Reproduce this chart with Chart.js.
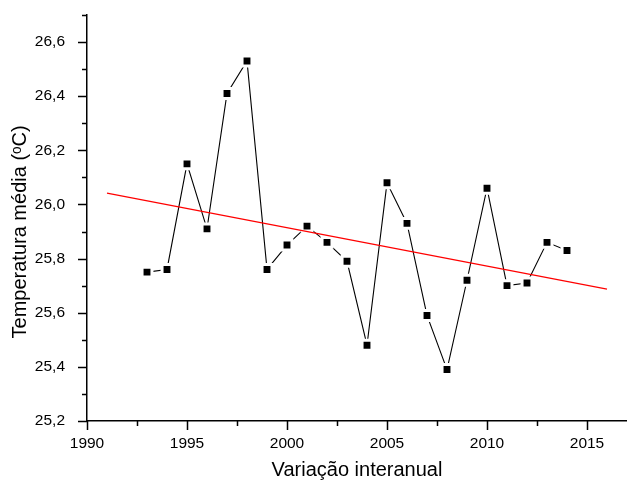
<!DOCTYPE html>
<html lang="pt">
<head>
    <meta charset="UTF-8">
    <title>Temperatura média</title>
    <script src="https://cdn.jsdelivr.net/npm/chart.js"></script>
    <style>
        html, body { margin: 0; padding: 0; background: #fff; }
        #wrap { width: 627px; height: 482px; }
    </style>
</head>
<body>
    <div id="wrap"><canvas id="tempChart" width="627" height="482"></canvas></div>
    <script>
        // dados
        const years = [1993, 1994, 1995, 1996, 1997, 1998, 1999, 2000, 2001, 2002, 2003,
                       2004, 2005, 2006, 2007, 2008, 2009, 2010, 2011, 2012, 2013, 2014];
        const temps = [25.75, 25.76, 26.15, 25.91, 26.41, 26.53, 25.76, 25.85, 25.92, 25.86, 25.79,
                       25.48, 26.08, 25.93, 25.59, 25.39, 25.72, 26.06, 25.70, 25.71, 25.86, 25.83];
        const trendYears = [1991, 2016];
        const trendTemps = [26.042, 25.687];

        const xTicks = [1990, 1995, 2000, 2005, 2010, 2015];
        const xMinorTicks = [1992.5, 1997.5, 2002.5, 2007.5, 2012.5];
        const yTicks = [25.2, 25.4, 25.6, 25.8, 26.0, 26.2, 26.4, 26.6];
        const yMinorTicks = [25.3, 25.5, 25.7, 25.9, 26.1, 26.3, 26.5, 26.7];

        const FONT = 'Liberation Sans, Arial, sans-serif';

        // ticks para fora (maiores e menores), desenhados com as escalas do Chart.js
        const tickMarks = {
            id: 'tickMarks',
            afterDraw(chart) {
                const c = chart.ctx;
                const xs = chart.scales.x, ys = chart.scales.y;
                const left = chart.chartArea.left, bottom = chart.chartArea.bottom;
                c.save();
                c.strokeStyle = '#000';
                c.lineWidth = 1.5;
                c.beginPath();
                xTicks.forEach(v => { const p = Math.round(xs.getPixelForValue(v)) + 0.5; c.moveTo(p, bottom); c.lineTo(p, bottom + 9); });
                xMinorTicks.forEach(v => { const p = Math.round(xs.getPixelForValue(v)) + 0.5; c.moveTo(p, bottom); c.lineTo(p, bottom + 5); });
                yTicks.forEach(v => { const p = Math.round(ys.getPixelForValue(v)) + 0.5; c.moveTo(left, p); c.lineTo(left - 9, p); });
                yMinorTicks.forEach(v => { const p = Math.round(ys.getPixelForValue(v)) + 0.5; c.moveTo(left, p); c.lineTo(left - 5, p); });
                c.stroke();
                c.restore();
            }
        };

        const ctx = document.getElementById('tempChart').getContext('2d');
        const tempChart = new Chart(ctx, {
            type: 'line',
            data: {
                datasets: [
                    {
                        label: 'Tendência',
                        data: trendYears.map((x, i) => ({ x: x, y: trendTemps[i] })),
                        borderColor: '#ff0000',
                        borderWidth: 1.2,
                        pointRadius: 0,
                        fill: false
                    },
                    {
                        label: 'Temperatura média',
                        data: years.map((x, i) => ({ x: x, y: temps[i] })),
                        borderColor: '#000',
                        borderWidth: 1.1,
                        pointStyle: 'rect',
                        pointRadius: 7,
                        pointBackgroundColor: '#000',
                        pointBorderColor: '#fff',
                        pointBorderWidth: 3,
                        fill: false
                    }
                ]
            },
            options: {
                responsive: false,
                animation: false,
                events: [],
                layout: { autoPadding: false, padding: { top: 15, right: 0, left: 0, bottom: 0 } },
                plugins: {
                    legend: { display: false },
                    tooltip: { enabled: false }
                },
                scales: {
                    x: {
                        type: 'linear',
                        min: 1990,
                        max: 2017,
                        afterBuildTicks: s => { s.ticks = xTicks.map(v => ({ value: v })); },
                        afterFit: s => { s.height = 61; s.paddingLeft = 0; s.paddingRight = 0; },
                        grid: { display: false },
                        border: { display: true, color: '#000', width: 1.5 },
                        ticks: {
                            color: '#000',
                            padding: 5,
                            maxRotation: 0,
                            font: { family: FONT, size: 15.5 },
                            callback: v => String(v)
                        },
                        title: {
                            display: true,
                            text: 'Variação interanual',
                            color: '#000',
                            font: { family: FONT, size: 20 },
                            padding: { top: 0, bottom: 0 }
                        }
                    },
                    y: {
                        type: 'linear',
                        min: 25.2,
                        max: 26.7,
                        afterBuildTicks: s => { s.ticks = yTicks.map(v => ({ value: v })); },
                        afterFit: s => { s.width = 87; s.paddingTop = 0; s.paddingBottom = 0; },
                        grid: { display: false },
                        border: { display: true, color: '#000', width: 1.5 },
                        ticks: {
                            color: '#000',
                            padding: 14,
                            font: { family: FONT, size: 15.5 },
                            callback: v => v.toFixed(1).replace('.', ',')
                        },
                        title: {
                            display: true,
                            // espaços finais para descer o título como no original
                            text: 'Temperatura média (ᵒC)\u00a0\u00a0\u00a0\u00a0\u00a0',
                            color: '#000',
                            font: { family: FONT, size: 20 },
                            padding: { top: 8.7, bottom: 0 }
                        }
                    }
                }
            },
            plugins: [tickMarks]
        });
    </script>
</body>
</html>
